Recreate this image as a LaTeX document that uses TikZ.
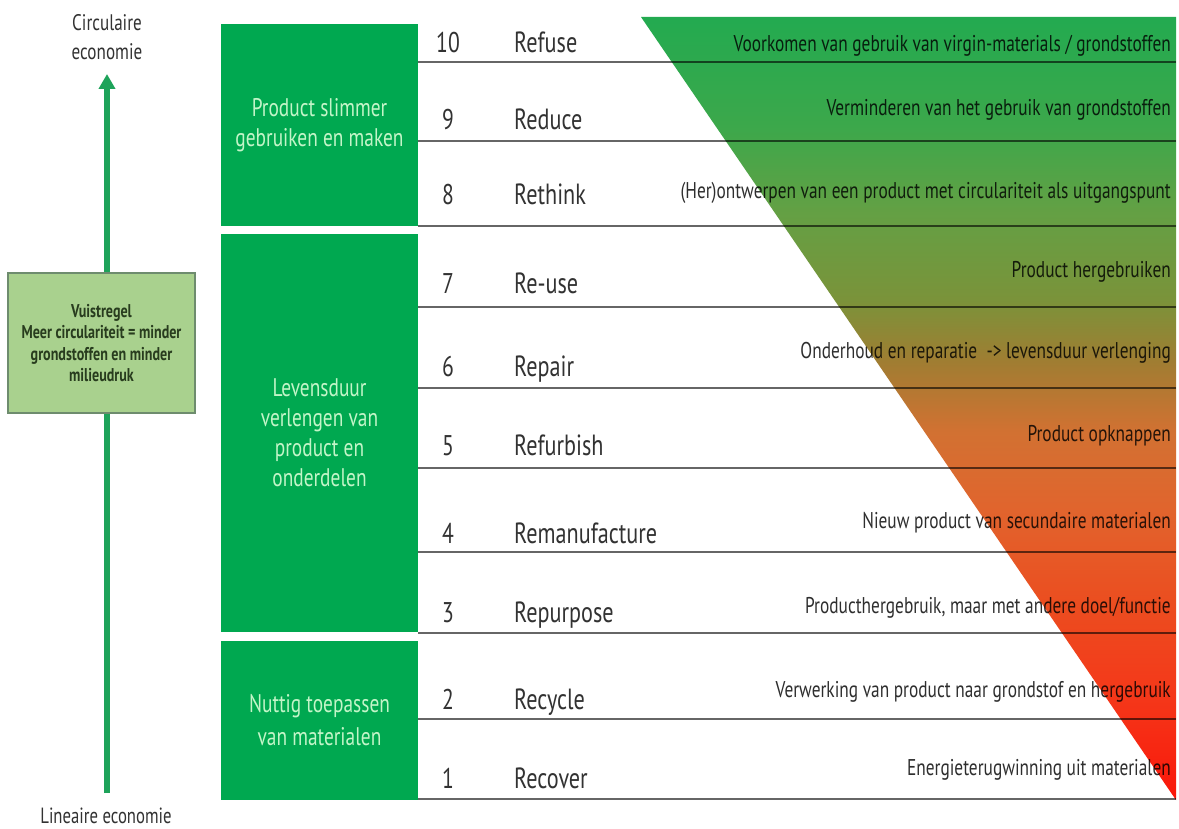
\documentclass[tikz,border=0pt]{standalone}
\usepackage{fontspec}
\setmainfont{PT Sans}[FakeStretch=0.76]
\usetikzlibrary{arrows.meta}
\definecolor{boxgreen}{RGB}{0,168,80}
\definecolor{boxtext}{RGB}{195,245,200}
\definecolor{labelgray}{RGB}{50,50,50}
\definecolor{arrowgreen}{RGB}{30,163,90}
\definecolor{rulefill}{RGB}{169,209,142}
\definecolor{ruledraw}{RGB}{110,140,110}
\definecolor{ruletext}{RGB}{40,60,30}
\definecolor{t1}{RGB}{250,22,10}
\definecolor{t2}{RGB}{245,55,25}
\definecolor{t3}{RGB}{235,78,32}
\definecolor{t4}{RGB}{225,100,45}
\definecolor{t5}{RGB}{210,113,50}
\definecolor{t6}{RGB}{160,125,50}
\definecolor{t7}{RGB}{122,147,58}
\definecolor{t8}{RGB}{100,160,68}
\definecolor{t9}{RGB}{60,168,75}
\definecolor{t10}{RGB}{35,170,80}
\pgfdeclareverticalshading{tri}{100bp}{color(0bp)=(t1); color(25bp)=(t1); color(31.5bp)=(t2); color(37.75bp)=(t3); color(43.5bp)=(t4); color(48.5bp)=(t5); color(53bp)=(t6); color(57bp)=(t7); color(62.5bp)=(t8); color(68bp)=(t9); color(75bp)=(t10); color(100bp)=(t10)}
\begin{document}
\begin{tikzpicture}[x=1pt,y=-1pt,
  greenbox/.style={fill=boxgreen, draw=none, text=boxtext, align=center, inner sep=0pt, font=\fontsize{25.5}{30}\selectfont},
  num/.style={anchor=base, text=labelgray, font=\fontsize{28.5}{30}\selectfont},
  lbl/.style={anchor=base west, text=labelgray, font=\fontsize{29.2}{30}\selectfont},
  desc/.style={anchor=base east, text=black, text opacity=0.82, inner sep=0pt, font=\fontsize{22.8}{24}\selectfont},
  rowline/.style={draw=black, draw opacity=0.6, line width=1.3pt},
  axislabel/.style={text=labelgray, align=center, inner sep=0pt},
  rulebox/.style={fill=rulefill, draw=ruledraw, line width=1.5pt, text=ruletext, align=center, inner sep=0pt, font=\bfseries\fontsize{18.5}{21.5}\selectfont}
]
\useasboundingbox (0,0) rectangle (1179,829);
\fill[white] (0,0) rectangle (1179,829);

% gradient triangle
\shade[shading=tri] (641,17) -- (1176,17) -- (1176,800) -- cycle;

% row separators
\foreach \y/\n in {62/a,141/b,226/c,307/d,388/e,468/f,552/g,633/h,719/i,799/j}{
  \coordinate (l\n) at (418,\y);
  \coordinate (r\n) at (1176,\y);
  \draw[rowline] (l\n) -- (r\n);
}

% green group boxes
\node[greenbox, minimum width=197pt, minimum height=202pt] (g1) at (319.5,125) {Product slimmer\\gebruiken en maken};
\node[greenbox, minimum width=197pt, minimum height=398pt] (g2) at (319.5,433) {Levensduur\\verlengen van\\product en\\onderdelen};
\node[greenbox, minimum width=197pt, minimum height=159pt, font=\fontsize{25.5}{33}\selectfont] (g3) at (319.5,720.5) {Nuttig toepassen\\van materialen};

% numbers and names
\foreach \n/\name/\y in {10/Refuse/53, 9/Reduce/130, 8/Rethink/205, 7/Re-use/294, 6/Repair/377, 5/Refurbish/455, 4/Remanufacture/543, 3/Repurpose/622, 2/Recycle/709, 1/Recover/788}{
  \node[num] (n\n) at (448,\y) {\n};
  \node[lbl, inner sep=0pt] (s\n) at (514,\y) {\name};
}

% descriptions
\node[desc] (d10) at (1171,52) {Voorkomen van gebruik van virgin-materials / grondstoffen};
\node[desc] (d9) at (1171,116) {Verminderen van het gebruik van grondstoffen};
\node[desc] (d8) at (1171,199) {(Her)ontwerpen van een product met circulariteit als uitgangspunt};
\node[desc] (d7) at (1171,278) {Product hergebruiken};
\node[desc] (d6) at (1171,359) {Onderhoud en reparatie\ \ -> levensduur verlenging};
\node[desc] (d5) at (1171,441) {Product opknappen};
\node[desc] (d4) at (1171,528) {Nieuw product van secundaire materialen};
\node[desc] (d3) at (1171,613) {Producthergebruik, maar met andere doel/functie};
\node[desc] (d2) at (1171,697) {Verwerking van product naar grondstof en hergebruik};
\node[desc] (d1) at (1171,775) {Energieterugwinning uit materialen};

% left axis
\node[axislabel, font=\fontsize{22.5}{29}\selectfont] (circ) at (107,37) {Circulaire\\economie};
\node[axislabel, font=\fontsize{22}{24}\selectfont] (lin) at (106,816) {Lineaire economie};
\coordinate (abot) at (107,793);
\coordinate (atop) at (107,74);
\draw[arrowgreen, line width=5.5pt, -{Triangle[length=15pt,width=16pt]}] (abot) -- (atop);
\node[rulebox, minimum width=187pt, minimum height=140pt] (rule) at (101.5,343) {Vuistregel\\Meer circulariteit = minder\\grondstoffen en minder\\milieudruk};
\end{tikzpicture}
\end{document}
